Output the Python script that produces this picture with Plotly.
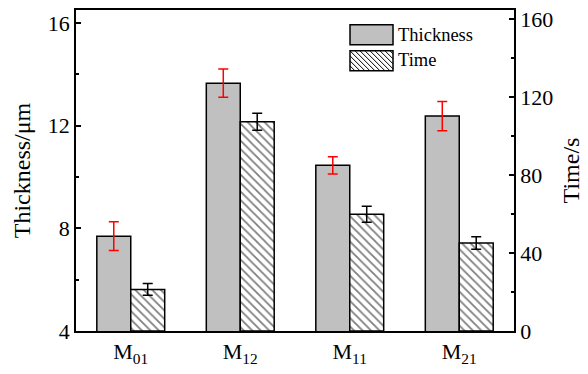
import plotly.graph_objects as go

categories = ["M<sub>01</sub>", "M<sub>12</sub>", "M<sub>11</sub>", "M<sub>21</sub>"]
thickness = [7.69, 13.65, 10.45, 12.37]
thickness_err = [0.56, 0.55, 0.34, 0.57]
time_s = [21.3, 107.3, 59.9, 45.1]
time_err = [3.0, 4.4, 4.1, 3.2]
left_ticks = [4, 8, 12, 16]
right_ticks = [0, 40, 80, 120, 160]

FONT = "Liberation Serif"
x_idx = list(range(len(categories)))
BW = 0.31

fig = go.Figure()
fig.add_trace(go.Bar(
    x=x_idx, y=thickness, width=BW, offset=-BW, name="Thickness",
    marker=dict(color="#c0c0c0", line=dict(color="black", width=1.5)),
    error_y=dict(type="data", array=thickness_err, color="red", thickness=1.5, width=5),
    showlegend=False, yaxis="y",
))
fig.add_trace(go.Bar(
    x=x_idx, y=time_s, width=BW, offset=0, name="Time",
    marker=dict(color="white", line=dict(color="black", width=1.5),
                pattern=dict(shape="\\", size=6, solidity=0.3, fgcolor="black", bgcolor="white")),
    error_y=dict(type="data", array=time_err, color="black", thickness=1.5, width=5),
    showlegend=False, yaxis="y2",
))

# manual legend (pixel-sized swatches)
shapes = []
ax0, ay0 = 0.6256, 0.9538
sw_w, sw_h, gap = 43, 20, 26
shapes.append(dict(type="rect", xref="paper", yref="paper", xsizemode="pixel", ysizemode="pixel",
                   xanchor=ax0, yanchor=ay0, x0=0, x1=sw_w, y0=0, y1=-sw_h,
                   fillcolor="#c0c0c0", line=dict(color="black", width=1.5)))
shapes.append(dict(type="rect", xref="paper", yref="paper", xsizemode="pixel", ysizemode="pixel",
                   xanchor=ax0, yanchor=ay0, x0=0, x1=sw_w, y0=-gap, y1=-gap - sw_h,
                   fillcolor="white", line=dict(color="black", width=1.5)))
step = 5
a = -sw_h
while a < sw_w:
    xs, ys = a, 0
    xe, ye = a + sw_h, -sw_h
    if xs < 0:
        ys = xs
        xs = 0
    if xe > sw_w:
        ye = -(sw_w - a)
        xe = sw_w
    shapes.append(dict(type="line", xref="paper", yref="paper", xsizemode="pixel", ysizemode="pixel",
                       xanchor=ax0, yanchor=ay0, x0=xs, x1=xe, y0=ys - gap, y1=ye - gap,
                       line=dict(color="black", width=1)))
    a += step

annotations = [
    dict(text="Thickness", xref="paper", yref="paper", x=0.6256 + 46 / 438, y=ay0 - 10 / 325,
         xanchor="left", yanchor="middle", showarrow=False, font=dict(family=FONT, size=18.5, color="black")),
    dict(text="Time", xref="paper", yref="paper", x=0.6256 + 46 / 438, y=ay0 - 36 / 325,
         xanchor="left", yanchor="middle", showarrow=False, font=dict(family=FONT, size=18.5, color="black")),
]

fig.update_layout(
    width=588, height=374,
    margin=dict(l=76, r=74, t=7, b=42),
    paper_bgcolor="white", plot_bgcolor="white",
    font=dict(family=FONT, color="black"),
    shapes=shapes, annotations=annotations,
    xaxis=dict(range=[-0.5, 3.5], tickmode="array", tickvals=x_idx, ticktext=categories,
               showline=True, linecolor="black", linewidth=1.5, mirror=True,
               ticks="", showgrid=False, zeroline=False, tickfont=dict(size=22, family=FONT)),
    yaxis=dict(range=[4, 16.5], tickmode="array", tickvals=left_ticks,
               showline=True, linecolor="black", linewidth=1.5,
               ticks="inside", ticklen=5, tickwidth=1.5, tickcolor="black",
               minor=dict(tickvals=[6, 10, 14], ticks="inside", ticklen=3, tickwidth=1.5, tickcolor="black"),
               showgrid=False, zeroline=False, tickfont=dict(size=22, family=FONT),
               title=dict(text="Thickness/μm", font=dict(size=24, family=FONT), standoff=10)),
    yaxis2=dict(range=[0, 164.6], overlaying="y", side="right", tickmode="array", tickvals=right_ticks,
                showline=True, linecolor="black", linewidth=1.5,
                ticks="inside", ticklen=5, tickwidth=1.5, tickcolor="black",
                minor=dict(tickvals=[20, 60, 100, 140], ticks="inside", ticklen=3, tickwidth=1.5, tickcolor="black"),
                showgrid=False, zeroline=False, tickfont=dict(size=22, family=FONT),
                title=dict(text="Time/s", font=dict(size=24, family=FONT), standoff=10)),
)

fig.write_html("out.html")
